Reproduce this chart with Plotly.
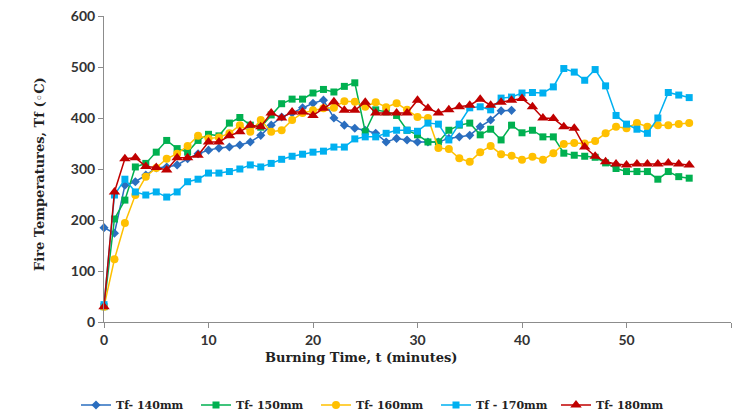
import plotly.graph_objects as go

t_140 = list(range(0, 40))
tf_140 = [185, 174, 268, 275, 288, 302, 304, 308, 320, 330, 337, 341, 343, 347, 353, 366, 386, 402, 410, 420,
          429, 435, 400, 386, 380, 376, 370, 353, 360, 357, 353, 353, 353, 360, 363, 366, 383, 396, 414, 415]

t_all = list(range(0, 57))
tf_150 = [30, 202, 239, 304, 311, 333, 356, 340, 333, 356, 368, 365, 390, 401, 386, 382, 406, 428, 437, 437,
          449, 456, 451, 462, 469, 373, 416, 412, 405, 376, 367, 353, 353, 376, 386, 390, 367, 378, 357, 386,
          371, 376, 363, 363, 331, 327, 325, 323, 312, 301, 295, 295, 295, 280, 295, 285, 282]
tf_160 = [30, 123, 194, 249, 285, 302, 320, 330, 345, 365, 360, 362, 370, 386, 373, 396, 373, 376, 396, 410,
          415, 419, 420, 433, 432, 422, 431, 421, 429, 416, 402, 400, 341, 339, 321, 314, 333, 345, 329, 326,
          318, 324, 318, 331, 349, 351, 350, 355, 370, 383, 380, 390, 383, 386, 386, 388, 390]
tf_170 = [34, 249, 280, 255, 249, 255, 245, 255, 275, 280, 292, 292, 295, 300, 308, 304, 311, 319, 325, 329,
          333, 335, 343, 343, 359, 363, 363, 370, 376, 376, 374, 390, 388, 357, 388, 420, 422, 416, 439, 441,
          449, 450, 449, 461, 497, 490, 474, 495, 463, 405, 388, 378, 370, 400, 450, 445, 440]
tf_180 = [30, 255, 320, 322, 305, 303, 298, 322, 322, 327, 353, 353, 365, 373, 386, 383, 410, 400, 412, 412,
          405, 419, 432, 415, 415, 431, 410, 410, 410, 410, 435, 419, 410, 416, 422, 425, 437, 425, 431, 435,
          438, 422, 400, 399, 383, 380, 343, 325, 314, 310, 308, 310, 310, 310, 312, 310, 308]

series_names = ["Tf- 140mm", "Tf- 150mm", "Tf- 160mm", "Tf - 170mm", "Tf- 180mm"]
x_ticks = [0, 10, 20, 30, 40, 50, 60]
y_ticks = [0, 100, 200, 300, 400, 500, 600]

fig = go.Figure()
specs = [
    (t_140, tf_140, "#2a6ebf", "diamond", 7),
    (t_all, tf_150, "#00b050", "square", 7),
    (t_all, tf_160, "#ffc000", "circle", 8),
    (t_all, tf_170, "#00b0f0", "square", 7),
    (t_all, tf_180, "#c00000", "triangle-up", 10),
]
for name, (xs, ys, col, sym, sz) in zip(series_names, specs):
    fig.add_trace(go.Scatter(
        x=xs, y=ys, name=name, mode="lines+markers",
        line=dict(color=col, width=1.5),
        marker=dict(color=col, symbol=sym, size=sz),
        cliponaxis=False,
    ))

W, H = 737, 416
L, R, T, B = 104, 6, 16, 94
pw, ph = W - L - R, H - T - B

tickfont = dict(family="Lato", size=14, color="#333333", weight="bold")
axcol = "#8c8c8c"
fig.update_layout(
    width=W, height=H,
    margin=dict(l=L, r=R, t=T, b=B, autoexpand=False),
    plot_bgcolor="white", paper_bgcolor="white",
    showlegend=True,
    legend=dict(orientation="h", xref="container", yref="container",
                x=76 / W, xanchor="left", y=(H - 405) / H, yanchor="middle",
                font=dict(family="DejaVu Serif", size=11, color="#222222", weight="bold"),
                itemwidth=30, entrywidth=75, entrywidthmode="pixels", tracegroupgap=0),
    xaxis=dict(range=[0, 60], tickvals=x_ticks, showgrid=False, zeroline=False, automargin=False,
               showline=True, linecolor=axcol, linewidth=1, ticks="outside",
               ticklen=5, tickcolor=axcol, tickfont=tickfont),
    yaxis=dict(range=[0, 600], tickvals=y_ticks, showgrid=False, zeroline=False, automargin=False,
               showline=True, linecolor=axcol, linewidth=1, ticks="outside",
               ticklen=5, tickcolor=axcol, tickfont=tickfont),
    annotations=[
        dict(text="Burning Time, t (minutes)", xref="paper", yref="paper",
             x=(361 - L) / pw, y=(322 - 357) / ph, xanchor="center", yanchor="middle",
             showarrow=False, font=dict(family="DejaVu Serif", size=13, color="#222222", weight="bold")),
        dict(text="Fire Temperatures, Tf (◦C)", xref="paper", yref="paper",
             x=(40 - L) / pw, y=(322 - 174) / ph, xanchor="center", yanchor="middle",
             textangle=-90, showarrow=False,
             font=dict(family="DejaVu Serif", size=13, color="#222222", weight="bold")),
    ],
)

fig.write_html("out.html", config={"displayModeBar": False},
               post_script="document.body.style.margin='0';document.body.style.padding='0';")
